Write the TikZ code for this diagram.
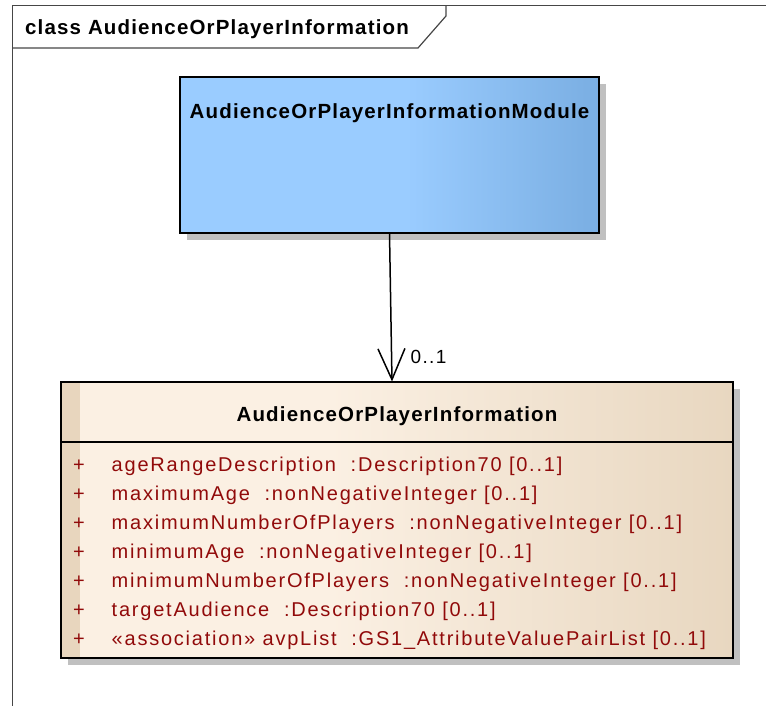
\documentclass[tikz,border=0pt]{standalone}
\usepackage{fontspec}
\setmainfont{Liberation Sans}
\newfontfamily\titlefont{Liberation Sans}[LetterSpace=5.7]
\newfontfamily\attrfont{Liberation Sans}[LetterSpace=8.9]
\newfontfamily\multfont{Liberation Sans}[LetterSpace=7]
\usetikzlibrary{arrows.meta,shadows,calc}
\definecolor{blueL}{RGB}{154,204,255}
\definecolor{blueR}{RGB}{122,174,226}
\definecolor{beigeL}{RGB}{251,240,227}
\definecolor{beigeR}{RGB}{232,215,192}
\definecolor{stripcol}{RGB}{232,214,190}
\definecolor{attrred}{RGB}{145,10,10}
\definecolor{shadowgray}{RGB}{192,192,192}
\definecolor{framecol}{RGB}{70,70,70}
\pgfdeclarehorizontalshading{blueshade}{100bp}{color(0bp)=(blueL); color(25bp)=(blueL); color(52bp)=(blueL); color(75bp)=(blueR); color(100bp)=(blueR)}
\pgfdeclarehorizontalshading{beigeshade}{100bp}{color(0bp)=(beigeL); color(25bp)=(beigeL); color(45bp)=(beigeL); color(75bp)=(beigeR); color(100bp)=(beigeR)}
\tikzset{
  boxshape/.style={rectangle, inner sep=0pt, outer sep=0pt, anchor=north west,
    drop shadow={shadow xshift=7pt, shadow yshift=-7pt, fill=shadowgray, opacity=1}},
  modbox/.style={boxshape, shading=blueshade, draw=black, line width=2pt},
  clsbox/.style={boxshape, shading=beigeshade},
  boxborder/.style={draw=black, line width=2pt},
  titletext/.style={font=\titlefont\bfseries\fontsize{20.5}{24}\selectfont, inner sep=0pt},
  attrtext/.style={font=\attrfont\fontsize{20}{24}\selectfont, text=attrred, inner sep=0pt, anchor=base west},
  multtext/.style={font=\multfont\fontsize{19}{23}\selectfont, inner sep=0pt, anchor=base west},
  assoc/.style={line width=1.5pt, -{Straight Barb[length=31pt, width=27pt, line width=1.5pt]}},
  framestyle/.style={draw=framecol, line width=1.2pt}
}
\begin{document}
\begin{tikzpicture}[x=1pt, y=-1pt]
\useasboundingbox (0,0) rectangle (766,706);
% frame
\draw[framestyle] (12.7,706) -- (12.7,5.5) -- (766,5.5);
\draw[framestyle] (12.7,48) -- (418,48) -- (446,16) -- (446,5.5);
\node[titletext, anchor=base west] (frametitle) at (25,35) {class AudienceOrPlayerInformation};

% module box
\node[modbox, minimum width=419pt, minimum height=156pt] (mod) at (180,77) {};
\node[titletext] (modtitle) at ($(mod.north)+(0,36)$) {AudienceOrPlayerInformationModule};

% class box
\node[clsbox, minimum width=672pt, minimum height=276pt] (cls) at (61,381.5) {};
\fill[stripcol] (cls.north west) rectangle ($(cls.south west)+(19,0)$);
\draw[boxborder] (cls.north west) rectangle (cls.south east);
\draw[line width=2pt] ($(cls.north west)+(0,60.5)$) -- ($(cls.north east)+(0,60.5)$);
\node[titletext] (clstitle) at ($(cls.north)+(0,34.5)$) {AudienceOrPlayerInformation};

% attributes
\foreach \i/\t in {0/{ageRangeDescription\ \ :Description70 [0..1]},
                   1/{maximumAge\ \ :nonNegativeInteger [0..1]},
                   2/{maximumNumberOfPlayers\ \ :nonNegativeInteger [0..1]},
                   3/{minimumAge\ \ :nonNegativeInteger [0..1]},
                   4/{minimumNumberOfPlayers\ \ :nonNegativeInteger [0..1]},
                   5/{targetAudience\ \ :Description70 [0..1]},
                   6/{«association» avpList\ \ :GS1\_AttributeValuePairList [0..1]}}{
  \node[attrtext] (plus\i) at (73,{471+29*\i}) {+};
  \node[attrtext] (attr\i) at (111.5,{471+29*\i}) {\t};
}

% association
\draw[assoc] (mod.south) -- ($(cls.north west)+(331,0)$);
\node[multtext] (mult) at (410.5,363) {0..1};
\end{tikzpicture}
\end{document}
